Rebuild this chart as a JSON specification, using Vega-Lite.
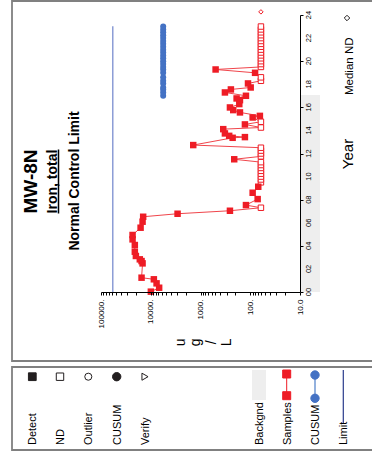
{
  "$schema": "https://vega.github.io/schema/vega-lite/v6.json",
  "width": 199,
  "height": 277,
  "autosize": {"type": "none"},
  "padding": {"left": 101, "top": 15, "right": 72, "bottom": 163},
  "background": "white",
  "config": {"view": {"stroke": null}, "font": "Liberation Sans", "text": {"font": "Liberation Sans"}},
  "datasets": {
    "samples": [
      {"year": 2000.03, "conc": 9950, "nd": 0},
      {"year": 2000.37, "conc": 6780, "nd": 0},
      {"year": 2000.75, "conc": 7640, "nd": 0},
      {"year": 2001.10, "conc": 8660, "nd": 0},
      {"year": 2001.24, "conc": 15300, "nd": 0},
      {"year": 2002.48, "conc": 14600, "nd": 0},
      {"year": 2002.68, "conc": 15300, "nd": 0},
      {"year": 2002.83, "conc": 16600, "nd": 0},
      {"year": 2003.12, "conc": 19900, "nd": 0},
      {"year": 2003.49, "conc": 20900, "nd": 0},
      {"year": 2004.07, "conc": 20900, "nd": 0},
      {"year": 2004.56, "conc": 23200, "nd": 0},
      {"year": 2004.94, "conc": 23200, "nd": 0},
      {"year": 2005.57, "conc": 16000, "nd": 0},
      {"year": 2006.09, "conc": 14600, "nd": 0},
      {"year": 2006.52, "conc": 14200, "nd": 0},
      {"year": 2006.78, "conc": 2890, "nd": 0},
      {"year": 2007.04, "conc": 256, "nd": 0},
      {"year": 2007.30, "conc": 61, "nd": 1},
      {"year": 2007.53, "conc": 122, "nd": 0},
      {"year": 2008.05, "conc": 71, "nd": 0},
      {"year": 2008.60, "conc": 89.5, "nd": 0},
      {"year": 2009.12, "conc": 69, "nd": 0},
      {"year": 2009.50, "conc": 61, "nd": 1},
      {"year": 2009.75, "conc": 61, "nd": 1},
      {"year": 2010.00, "conc": 61, "nd": 1},
      {"year": 2010.25, "conc": 61, "nd": 1},
      {"year": 2010.50, "conc": 61, "nd": 1},
      {"year": 2010.75, "conc": 61, "nd": 1},
      {"year": 2011.00, "conc": 61, "nd": 1},
      {"year": 2011.25, "conc": 61, "nd": 1},
      {"year": 2011.50, "conc": 210, "nd": 0},
      {"year": 2011.75, "conc": 61, "nd": 1},
      {"year": 2012.00, "conc": 61, "nd": 1},
      {"year": 2012.25, "conc": 61, "nd": 1},
      {"year": 2012.50, "conc": 61, "nd": 1},
      {"year": 2012.73, "conc": 1400, "nd": 0},
      {"year": 2013.36, "conc": 226, "nd": 0},
      {"year": 2013.42, "conc": 128, "nd": 0},
      {"year": 2013.53, "conc": 265, "nd": 0},
      {"year": 2013.74, "conc": 323, "nd": 0},
      {"year": 2014.11, "conc": 349, "nd": 0},
      {"year": 2014.25, "conc": 61, "nd": 1},
      {"year": 2014.52, "conc": 128, "nd": 0},
      {"year": 2014.75, "conc": 61, "nd": 1},
      {"year": 2015.12, "conc": 89.5, "nd": 0},
      {"year": 2015.26, "conc": 64, "nd": 0},
      {"year": 2015.56, "conc": 161, "nd": 0},
      {"year": 2015.76, "conc": 220, "nd": 0},
      {"year": 2015.99, "conc": 256, "nd": 0},
      {"year": 2016.28, "conc": 166, "nd": 0},
      {"year": 2016.62, "conc": 161, "nd": 0},
      {"year": 2016.77, "conc": 188, "nd": 0},
      {"year": 2017.00, "conc": 122, "nd": 0},
      {"year": 2017.29, "conc": 323, "nd": 0},
      {"year": 2017.55, "conc": 245, "nd": 0},
      {"year": 2017.72, "conc": 98, "nd": 0},
      {"year": 2018.07, "conc": 111, "nd": 0},
      {"year": 2018.30, "conc": 61, "nd": 1},
      {"year": 2018.60, "conc": 61, "nd": 1},
      {"year": 2018.99, "conc": 80, "nd": 0},
      {"year": 2019.28, "conc": 497, "nd": 0},
      {"year": 2019.50, "conc": 61, "nd": 1},
      {"year": 2019.75, "conc": 61, "nd": 1},
      {"year": 2020.00, "conc": 61, "nd": 1},
      {"year": 2020.25, "conc": 61, "nd": 1},
      {"year": 2020.50, "conc": 61, "nd": 1},
      {"year": 2020.75, "conc": 61, "nd": 1},
      {"year": 2021.00, "conc": 61, "nd": 1},
      {"year": 2021.25, "conc": 61, "nd": 1},
      {"year": 2021.50, "conc": 61, "nd": 1},
      {"year": 2021.75, "conc": 61, "nd": 1},
      {"year": 2022.00, "conc": 61, "nd": 1},
      {"year": 2022.25, "conc": 61, "nd": 1},
      {"year": 2022.50, "conc": 61, "nd": 1},
      {"year": 2022.75, "conc": 61, "nd": 1},
      {"year": 2023.00, "conc": 61, "nd": 1}
    ],
    "cusum": [
      {"year": 2017.00, "conc": 5625}, {"year": 2017.29, "conc": 5625}, {"year": 2017.55, "conc": 5625},
      {"year": 2017.72, "conc": 5625}, {"year": 2018.07, "conc": 5625}, {"year": 2018.30, "conc": 5625},
      {"year": 2018.60, "conc": 5625}, {"year": 2018.99, "conc": 5625}, {"year": 2019.28, "conc": 5625},
      {"year": 2019.50, "conc": 5625}, {"year": 2019.75, "conc": 5625}, {"year": 2020.00, "conc": 5625},
      {"year": 2020.25, "conc": 5625}, {"year": 2020.50, "conc": 5625}, {"year": 2020.75, "conc": 5625},
      {"year": 2021.00, "conc": 5625}, {"year": 2021.25, "conc": 5625}, {"year": 2021.50, "conc": 5625},
      {"year": 2021.75, "conc": 5625}, {"year": 2022.00, "conc": 5625}, {"year": 2022.25, "conc": 5625},
      {"year": 2022.50, "conc": 5625}, {"year": 2022.75, "conc": 5625}, {"year": 2023.00, "conc": 5625}
    ],
    "yearlabels": [
      {"year": 2000, "lab": "00"}, {"year": 2002, "lab": "02"}, {"year": 2004, "lab": "04"},
      {"year": 2006, "lab": "06"}, {"year": 2008, "lab": "08"}, {"year": 2010, "lab": "10"},
      {"year": 2012, "lab": "12"}, {"year": 2014, "lab": "14"}, {"year": 2016, "lab": "16"},
      {"year": 2018, "lab": "18"}, {"year": 2020, "lab": "20"}, {"year": 2022, "lab": "22"},
      {"year": 2024, "lab": "24"}
    ]
  },
  "layer": [
    {
      "layer": [
        {
          "data": {"values": [{"c0": 10, "c1": 3.96, "y0": 2000, "y1": 2017.06}]},
          "mark": {"type": "rect", "color": "#eeeeee"},
          "encoding": {
            "x": {
              "field": "c0", "type": "quantitative",
              "scale": {"type": "log", "domain": [10, 100000], "reverse": true, "nice": false},
              "axis": {
                "orient": "bottom",
                "values": [10,20,30,40,50,60,70,80,90,100,200,300,400,500,600,700,800,900,1000,2000,3000,4000,5000,6000,7000,8000,9000,10000,20000,30000,40000,50000,60000,70000,80000,90000,100000],
                "labelExpr": "indexof([10,100,1000,10000,100000], datum.value) < 0 ? '' : (datum.value == 10 ? '10.0' : format(datum.value, 'd') + '.')",
                "labelAngle": 270, "labelFontSize": 8, "labelColor": "black", "labelPadding": 4,
                "labelFlush": false, "labelOverlap": false, "labelBound": false,
                "tickSize": 3, "tickColor": "black", "domainColor": "black", "grid": false,
                "title": ["u", "g", "/", "L"], "titleAngle": 270, "titleFontSize": 14, "titleFontWeight": "normal",
                "titleColor": "black", "titleLineHeight": 15.5, "titlePadding": 14, "titleX": 79,
                "titleAlign": "center", "titleBaseline": "middle", "zindex": 1
              }
            },
            "x2": {"field": "c1"},
            "y": {
              "field": "y0", "type": "quantitative",
              "scale": {"domain": [2000, 2024], "nice": false, "zero": false},
              "axis": {
                "orient": "right",
                "values": [2000,2001,2002,2003,2004,2005,2006,2007,2008,2009,2010,2011,2012,2013,2014,2015,2016,2017,2018,2019,2020,2021,2022,2023,2024],
                "labels": false,
                "tickSize": 3, "tickColor": "black", "domainColor": "black", "grid": false,
                "title": "Year", "titleAngle": 270, "titleFontSize": 15, "titleFontWeight": "normal",
                "titleColor": "black", "titlePadding": 52, "zindex": 1
              }
            },
            "y2": {"field": "y1"}
          }
        },
        {
          "data": {"name": "yearlabels"},
          "mark": {"type": "text", "angle": 270, "align": "center", "baseline": "top", "fontSize": 7.5, "color": "black"},
          "encoding": {
            "x": {"datum": 7.9, "type": "quantitative"},
            "y": {"field": "year", "type": "quantitative"},
            "text": {"field": "lab"}
          }
        },
        {
          "data": {"values": [{"conc": 58000, "y0": 2000, "y1": 2023.03}]},
          "mark": {"type": "rule", "color": "#8c9dd6", "strokeWidth": 1.5},
          "encoding": {
            "x": {"field": "conc", "type": "quantitative"},
            "y": {"field": "y0", "type": "quantitative"},
            "y2": {"field": "y1"}
          }
        },
        {
          "data": {"name": "cusum"},
          "mark": {"type": "line", "color": "#4472c4", "strokeWidth": 2},
          "encoding": {
            "x": {"field": "conc", "type": "quantitative"},
            "y": {"field": "year", "type": "quantitative"},
            "order": {"field": "year", "type": "quantitative"}
          }
        },
        {
          "data": {"name": "cusum"},
          "mark": {"type": "point", "shape": "circle", "filled": true, "color": "#4472c4", "size": 36, "opacity": 1},
          "encoding": {
            "x": {"field": "conc", "type": "quantitative"},
            "y": {"field": "year", "type": "quantitative"}
          }
        },
        {
          "data": {"name": "samples"},
          "mark": {"type": "line", "color": "#f0454b", "strokeWidth": 1},
          "encoding": {
            "x": {"field": "conc", "type": "quantitative"},
            "y": {"field": "year", "type": "quantitative"},
            "order": {"field": "year", "type": "quantitative"}
          }
        },
        {
          "data": {"name": "samples"},
          "transform": [{"filter": "datum.nd == 1"}],
          "mark": {"type": "point", "shape": "square", "fill": "white", "stroke": "#ee1c25", "strokeWidth": 1, "size": 30, "opacity": 1},
          "encoding": {
            "x": {"field": "conc", "type": "quantitative"},
            "y": {"field": "year", "type": "quantitative"}
          }
        },
        {
          "data": {"name": "samples"},
          "transform": [{"filter": "datum.nd == 0"}],
          "mark": {"type": "point", "shape": "square", "filled": true, "color": "#ee1c25", "size": 42, "opacity": 1},
          "encoding": {
            "x": {"field": "conc", "type": "quantitative"},
            "y": {"field": "year", "type": "quantitative"}
          }
        },
        {
          "data": {"values": [{"conc": 61, "year": 2024.27}]},
          "mark": {"type": "point", "shape": "diamond", "fill": "white", "stroke": "#ee1c25", "strokeWidth": 1, "size": 20, "opacity": 1},
          "encoding": {
            "x": {"field": "conc", "type": "quantitative"},
            "y": {"field": "year", "type": "quantitative"}
          }
        }
      ]
    },
    {
      "layer": [
        {
          "data": {"values": [{"px": 12, "px2": 400, "py": 1, "py2": 361}, {"px": 12, "px2": 400, "py": 367, "py2": 450}]},
          "mark": {"type": "rect", "fill": "transparent", "stroke": "#808080", "strokeWidth": 1.8},
          "encoding": {
            "x": {"field": "px", "type": "quantitative", "scale": {"domain": [101, 300], "nice": false, "zero": false}, "axis": null},
            "x2": {"field": "px2"},
            "y": {"field": "py", "type": "quantitative", "scale": {"domain": [15, 292], "reverse": true, "nice": false, "zero": false}, "axis": null},
            "y2": {"field": "py2"}
          }
        },
        {
          "data": {"values": [{"px": 252, "px2": 266, "py": 370, "py2": 400}]},
          "mark": {"type": "rect", "color": "#eeeeee"},
          "encoding": {
            "x": {"field": "px", "type": "quantitative"},
            "x2": {"field": "px2"},
            "y": {"field": "py", "type": "quantitative"},
            "y2": {"field": "py2"}
          }
        },
        {
          "data": {"values": [
            {"px": 286.7, "py": 374, "py2": 395.7, "c": "#ee1c25", "w": 1},
            {"px": 315, "py": 375, "py2": 398.3, "c": "#93b1de", "w": 2},
            {"px": 343.3, "py": 370, "py2": 423, "c": "#2a3b8c", "w": 1.2},
            {"px": 58.5, "py": 149.5, "py2": 213.5, "c": "black", "w": 1.5}
          ]},
          "mark": {"type": "rule"},
          "encoding": {
            "x": {"field": "px", "type": "quantitative"},
            "y": {"field": "py", "type": "quantitative"},
            "y2": {"field": "py2"},
            "color": {"field": "c", "type": "nominal", "scale": null},
            "strokeWidth": {"field": "w", "type": "quantitative", "scale": null}
          }
        },
        {
          "data": {"values": [
            {"px": 32.3, "py": 376.7, "shp": "square", "f": "#231f20", "s": "#231f20", "sz": 60},
            {"px": 60, "py": 376.7, "shp": "square", "f": "white", "s": "#231f20", "sz": 55},
            {"px": 88.3, "py": 376.7, "shp": "circle", "f": "white", "s": "#231f20", "sz": 50},
            {"px": 116.7, "py": 376.7, "shp": "circle", "f": "#231f20", "s": "#231f20", "sz": 70},
            {"px": 145, "py": 376.7, "shp": "triangle-right", "f": "white", "s": "#231f20", "sz": 50},
            {"px": 286.7, "py": 374, "shp": "square", "f": "#ee1c25", "s": "#ee1c25", "sz": 64},
            {"px": 286.7, "py": 395.7, "shp": "square", "f": "#ee1c25", "s": "#ee1c25", "sz": 64},
            {"px": 315, "py": 375, "shp": "circle", "f": "#4472c4", "s": "#4472c4", "sz": 70},
            {"px": 315, "py": 398.3, "shp": "circle", "f": "#4472c4", "s": "#4472c4", "sz": 70},
            {"px": 347, "py": 18, "shp": "diamond", "f": "white", "s": "#231f20", "sz": 30}
          ]},
          "mark": {"type": "point", "strokeWidth": 1, "opacity": 1},
          "encoding": {
            "x": {"field": "px", "type": "quantitative"},
            "y": {"field": "py", "type": "quantitative"},
            "shape": {"field": "shp", "type": "nominal", "scale": null},
            "fill": {"field": "f", "type": "nominal", "scale": null},
            "stroke": {"field": "s", "type": "nominal", "scale": null},
            "size": {"field": "sz", "type": "quantitative", "scale": null}
          }
        },
        {
          "data": {"values": [{"px": 37, "py": 181.5, "t": "MW-8N"}]},
          "mark": {"type": "text", "angle": 270, "align": "center", "baseline": "alphabetic", "fontSize": 19, "fontWeight": "bold", "color": "black"},
          "encoding": {
            "x": {"field": "px", "type": "quantitative"},
            "y": {"field": "py", "type": "quantitative"},
            "text": {"field": "t"}
          }
        },
        {
          "data": {"values": [{"px": 56.5, "py": 181.5, "t": "Iron, total"}, {"px": 78.5, "py": 181, "t": "Normal Control Limit"}]},
          "mark": {"type": "text", "angle": 270, "align": "center", "baseline": "alphabetic", "fontSize": 14, "fontWeight": "bold", "color": "black"},
          "encoding": {
            "x": {"field": "px", "type": "quantitative"},
            "y": {"field": "py", "type": "quantitative"},
            "text": {"field": "t"}
          }
        },
        {
          "data": {"values": [
            {"px": 36, "py": 445, "t": "Detect"},
            {"px": 63.5, "py": 445, "t": "ND"},
            {"px": 92, "py": 445, "t": "Outlier"},
            {"px": 120.5, "py": 445, "t": "CUSUM"},
            {"px": 148.5, "py": 445, "t": "Verify"},
            {"px": 263, "py": 445, "t": "Backgnd"},
            {"px": 290.5, "py": 445, "t": "Samples"},
            {"px": 319, "py": 445, "t": "CUSUM"},
            {"px": 347, "py": 445, "t": "Limit"}
          ]},
          "mark": {"type": "text", "angle": 270, "align": "left", "baseline": "alphabetic", "fontSize": 11, "color": "black"},
          "encoding": {
            "x": {"field": "px", "type": "quantitative"},
            "y": {"field": "py", "type": "quantitative"},
            "text": {"field": "t"}
          }
        },
        {
          "data": {"values": [{"px": 353, "py": 95, "t": "Median ND"}]},
          "mark": {"type": "text", "angle": 270, "align": "left", "baseline": "alphabetic", "fontSize": 11.5, "color": "black"},
          "encoding": {
            "x": {"field": "px", "type": "quantitative"},
            "y": {"field": "py", "type": "quantitative"},
            "text": {"field": "t"}
          }
        }
      ]
    }
  ],
  "resolve": {"scale": {"x": "independent", "y": "independent"}}
}
